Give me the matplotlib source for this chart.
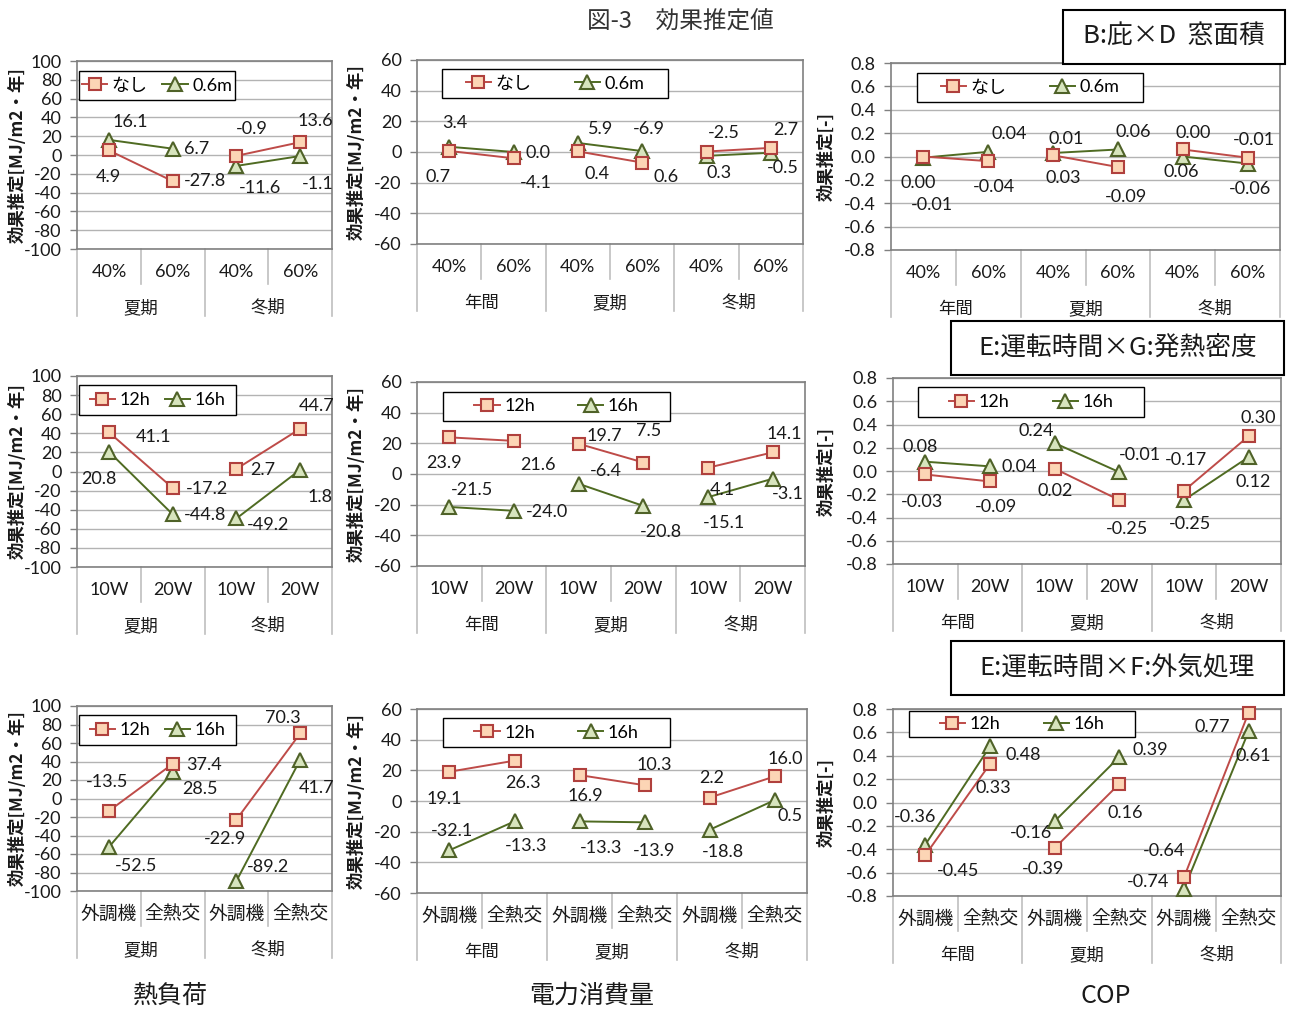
import matplotlib
matplotlib.use("Agg")
import matplotlib.pyplot as plt
from matplotlib.patches import Rectangle
from matplotlib.lines import Line2D

plt.rcParams['font.family'] = ['Lato', 'Noto Sans CJK JP', 'DejaVu Sans']
CJK = ['Noto Sans CJK JP', 'DejaVu Sans']

# ---------------- data ----------------
groups_2 = ['夏期', '冬期']
groups_3 = ['年間', '夏期', '冬期']
cats_window = ['40%', '60%']
cats_heat = ['10W', '20W']
cats_air = ['外調機', '全熱交']

names_B = ['なし', '0.6m']
names_E = ['12h', '16h']

B_heat_nashi = [4.9, -27.8, -0.9, 13.6]
B_heat_06 = [16.1, 6.7, -11.6, -1.1]
B_elec_nashi = [0.7, -4.1, 0.4, -6.9, 0.3, 2.7]
B_elec_06 = [3.4, 0.0, 5.9, 0.6, -2.5, -0.5]
B_cop_nashi = [0.00, -0.04, 0.01, -0.09, 0.06, -0.01]
B_cop_06 = [-0.01, 0.04, 0.03, 0.06, 0.00, -0.06]

EG_heat_12 = [41.1, -17.2, 2.7, 44.7]
EG_heat_16 = [20.8, -44.8, -49.2, 1.8]
EG_elec_12 = [23.9, 21.6, 19.7, 7.5, 4.1, 14.1]
EG_elec_16 = [-21.5, -24.0, -6.4, -20.8, -15.1, -3.1]
EG_cop_12 = [-0.03, -0.09, 0.02, -0.25, -0.17, 0.30]
EG_cop_16 = [0.08, 0.04, 0.24, -0.01, -0.25, 0.12]

EF_heat_12 = [-13.5, 37.4, -22.9, 70.3]
EF_heat_16 = [-52.5, 28.5, -89.2, 41.7]
EF_elec_12 = [19.1, 26.3, 16.9, 10.3, 2.2, 16.0]
EF_elec_16 = [-32.1, -13.3, -13.3, -13.9, -18.8, 0.5]
EF_cop_12 = [-0.45, 0.33, -0.39, 0.16, -0.64, 0.77]
EF_cop_16 = [-0.36, 0.48, -0.16, 0.39, -0.74, 0.61]

heat_ticks = list(range(-100, 101, 20))
elec_ticks = list(range(-60, 61, 20))
cop_ticks = [-0.8, -0.6, -0.4, -0.2, 0.0, 0.2, 0.4, 0.6, 0.8]

# ---------------- layout / style ----------------
W, H = 1290, 1010
fig = plt.figure(figsize=(W / 100, H / 100), dpi=100)
fig.patch.set_facecolor('white')

def fxy(px, py):
    return px / W, 1 - py / H

RED_LINE = '#be4b48'
RED_EDGE = '#b0403d'
RED_FACE = '#fcd5b5'
GRN_LINE = '#4f6b22'
GRN_EDGE = '#4f6228'
GRN_FACE = '#d7e4bd'
TXT = '#1a1a1a'
SEP = '#bfbfbf'
FS = 13

panels = [
    dict(rect=(77, 61, 332, 249), ticks=heat_ticks, fmt='{:.0f}', lfmt='{:.1f}',
         groups=groups_2, cats=cats_window, names=names_B, s1=B_heat_nashi, s2=B_heat_06,
         off1=[(0, -27), (32, 0), (15, 27), (15, 21)],
         off2=[(21, 18), (24, 0), (24, -22), (18, -28)],
         leg=(79, 71, 235, 100), ylab='効果推定[MJ/m2・年]', ylx=18, colsp=0.8),
    dict(rect=(417, 60, 803, 244), ticks=elec_ticks, fmt='{:.0f}', lfmt='{:.1f}',
         groups=groups_3, cats=cats_window, names=names_B, s1=B_elec_nashi, s2=B_elec_06,
         off1=[(-11, -26), (22, -25), (19, -23), (7, 34), (13, -21), (15, 18)],
         off2=[(6, 24), (24, -1), (23, 14), (24, -26), (17, 23), (12, -15)],
         leg=(442, 69, 668, 98), ylab='効果推定[MJ/m2・年]', ylx=357, colsp=2.4),
    dict(rect=(891, 63, 1280, 250), ticks=cop_ticks, fmt='{:.1f}', lfmt='{:.2f}',
         groups=groups_3, cats=cats_window, names=names_B, s1=B_cop_nashi, s2=B_cop_06,
         off1=[(-5, -27), (6, -26), (13, 16), (8, -30), (-1, -23), (6, 18)],
         off2=[(9, -47), (21, 18), (10, -25), (15, 17), (10, 23), (2, -25)],
         leg=(917, 73, 1143, 102), ylab='効果推定[-]', ylx=827, colsp=2.4),
    dict(rect=(77, 376, 332, 567), ticks=heat_ticks, fmt='{:.0f}', lfmt='{:.1f}',
         groups=groups_2, cats=cats_heat, names=names_E, s1=EG_heat_12, s2=EG_heat_16,
         off1=[(45, -5), (34, -1), (26, -1), (16, 23)],
         off2=[(-10, -27), (32, -1), (32, -7), (20, -27)],
         leg=(79, 385, 236, 415), ylab='効果推定[MJ/m2・年]', ylx=18, colsp=0.8),
    dict(rect=(417, 382, 805, 566), ticks=elec_ticks, fmt='{:.0f}', lfmt='{:.1f}',
         groups=groups_3, cats=cats_heat, names=names_E, s1=EG_elec_12, s2=EG_elec_16,
         off1=[(-5, -26), (24, -24), (26, 8), (5, 32), (14, -22), (12, 18)],
         off2=[(23, 17), (33, -1), (27, 13), (18, -26), (16, -26), (15, -15)],
         leg=(443, 392, 670, 421), ylab='効果推定[MJ/m2・年]', ylx=357, colsp=2.4),
    dict(rect=(893, 378, 1281, 564), ticks=cop_ticks, fmt='{:.1f}', lfmt='{:.2f}',
         groups=groups_3, cats=cats_heat, names=names_E, s1=EG_cop_12, s2=EG_cop_16,
         off1=[(-3, -28), (6, -26), (1, -22), (8, -29), (2, 31), (10, 18)],
         off2=[(-5, 15), (29, -1), (-18, 12), (21, 17), (6, -24), (5, -25)],
         leg=(918, 387, 1144, 417), ylab='効果推定[-]', ylx=827, colsp=2.4),
    dict(rect=(77, 706, 332, 891), ticks=heat_ticks, fmt='{:.0f}', lfmt='{:.1f}',
         groups=groups_2, cats=cats_air, names=names_E, s1=EF_heat_12, s2=EF_heat_16,
         off1=[(-2, 29), (31, -1), (-11, -19), (-17, 15)],
         off2=[(27, -19), (27, -17), (32, 14), (16, -28)],
         leg=(79, 715, 236, 745), ylab='効果推定[MJ/m2・年]', ylx=18, colsp=0.8),
    dict(rect=(417, 709, 807, 893), ticks=elec_ticks, fmt='{:.0f}', lfmt='{:.1f}',
         groups=groups_3, cats=cats_air, names=names_E, s1=EF_elec_12, s2=EF_elec_16,
         off1=[(-5, -27), (9, -22), (6, -21), (10, 20), (2, 20), (11, 17)],
         off2=[(3, 19), (12, -25), (22, -27), (10, -29), (13, -22), (16, -16)],
         leg=(443, 718, 670, 747), ylab='効果推定[MJ/m2・年]', ylx=357, colsp=2.4),
    dict(rect=(893, 709, 1281, 896), ticks=cop_ticks, fmt='{:.1f}', lfmt='{:.2f}',
         groups=groups_3, cats=cats_air, names=names_E, s1=EF_cop_12, s2=EF_cop_16,
         off1=[(33, -16), (3, -24), (-12, -21), (6, -29), (-20, 26), (-36, -14)],
         off2=[(-10, 28), (33, -9), (-24, -12), (31, 7), (-36, 7), (5, -25)],
         leg=(909, 711, 1135, 737), ylab='効果推定[-]', ylx=827, colsp=2.4),
]

for p in panels:
    l, t, r, b = p['rect']
    x0, y1 = fxy(l, t)
    x1, y0 = fxy(r, b)
    ax = fig.add_axes([x0, y0, x1 - x0, y1 - y0])
    hpx = b - t
    ncats = len(p['cats'])
    ncat = len(p['groups']) * ncats
    xs = list(range(ncat))

    # one line segment per group (not connected across groups)
    for gi in range(len(p['groups'])):
        sl = slice(gi * ncats, (gi + 1) * ncats)
        ax.plot(xs[sl], p['s1'][sl], color=RED_LINE, lw=1.4, marker='s', ms=9,
                mfc=RED_FACE, mec=RED_EDGE, mew=1.5, zorder=4, clip_on=False)
        ax.plot(xs[sl], p['s2'][sl], color=GRN_LINE, lw=1.4, marker='^', ms=10,
                mfc=GRN_FACE, mec=GRN_EDGE, mew=1.5, zorder=3, clip_on=False)

    for vals, offs in ((p['s1'], p['off1']), (p['s2'], p['off2'])):
        for xi, v, (dx, dy) in zip(xs, vals, offs):
            ax.annotate(p['lfmt'].format(v), (xi, v), xytext=(dx, dy),
                        textcoords='offset pixels', ha='center', va='center',
                        fontsize=FS, color=TXT, zorder=6, annotation_clip=False)

    ticks = p['ticks']
    ax.set_ylim(ticks[0], ticks[-1])
    ax.set_xlim(-0.5, ncat - 0.5)
    ax.set_yticks(ticks)
    ax.set_yticklabels([p['fmt'].format(v) for v in ticks], fontsize=FS, color=TXT)
    ax.tick_params(axis='y', length=5, width=1, color='#808080', pad=6)
    ax.set_xticks([])
    ax.yaxis.grid(True, color='#b3b3b3', lw=1)
    ax.set_axisbelow(True)
    for sp in ax.spines.values():
        sp.set_color('#808080')
        sp.set_linewidth(1.2)

    # grouped category axis
    tr = ax.get_xaxis_transform()
    cjk_cats = p['cats'] is cats_air
    for gi, g in enumerate(p['groups']):
        for ci, c in enumerate(p['cats']):
            xi = gi * ncats + ci
            ax.text(xi, -23 / hpx, c, transform=tr, ha='center', va='center',
                    fontsize=13.5 if cjk_cats else FS, color=TXT,
                    family=CJK if cjk_cats else None)
            if ci > 0:
                ax.plot([xi - 0.5, xi - 0.5], [0, -35 / hpx], transform=tr,
                        color=SEP, lw=1.2, clip_on=False)
        ax.text(gi * ncats + (ncats - 1) / 2, -59 / hpx, g, transform=tr,
                ha='center', va='center', fontsize=12.5, color=TXT, family=CJK)
    for gi in range(len(p['groups']) + 1):
        xb = gi * ncats - 0.5
        ax.plot([xb, xb], [0, -67 / hpx], transform=tr, color=SEP, lw=1.2,
                clip_on=False)

    # y label
    fig.text(*fxy(p['ylx'], (t + b) / 2), p['ylab'], rotation=90, ha='center',
             va='center', fontsize=12.5, fontweight='bold', color=TXT, family=CJK)

    # legend box + legend
    lx0, ly0, lx1, ly1 = p['leg']
    bx0, by1 = fxy(lx0, ly0)
    bx1, by0 = fxy(lx1, ly1)
    fig.add_artist(Rectangle((bx0, by0), bx1 - bx0, by1 - by0, transform=fig.transFigure,
                             facecolor='white', edgecolor='black', lw=1.0, zorder=2))
    handles = [
        Line2D([], [], color=RED_LINE, lw=1.4, marker='s', ms=9, mfc=RED_FACE,
               mec=RED_EDGE, mew=1.5),
        Line2D([], [], color=GRN_LINE, lw=1.4, marker='^', ms=10, mfc=GRN_FACE,
               mec=GRN_EDGE, mew=1.5),
    ]
    leg = fig.legend(handles, p['names'], loc='center',
                     bbox_to_anchor=((bx0 + bx1) / 2, (by0 + by1) / 2),
                     bbox_transform=fig.transFigure, ncol=2, frameon=False,
                     fontsize=FS, handlelength=1.4, handletextpad=0.25,
                     columnspacing=p['colsp'], borderpad=0.1)
    leg.set_zorder(5)

# title boxes
title_boxes = [
    ((1063, 10, 1285, 64), 'B:庇×D  窓面積'),
    ((951, 321, 1284, 375), 'E:運転時間×G:発熱密度'),
    ((951, 641, 1284, 695), 'E:運転時間×F:外気処理'),
]
for (l, t, r, b), s in title_boxes:
    x0, y1 = fxy(l, t)
    x1, y0 = fxy(r, b)
    fig.add_artist(Rectangle((x0, y0), x1 - x0, y1 - y0, transform=fig.transFigure,
                             facecolor='white', edgecolor='black', lw=1.5, zorder=3))
    fig.text((x0 + x1) / 2, (y0 + y1) / 2, s, ha='center', va='center',
             fontsize=18.5, color=TXT, zorder=4, family=CJK)

fig.text(*fxy(680, 22), '図-3　効果推定値', ha='center', va='center', fontsize=17,
         color='#333333', family=CJK)
fig.text(*fxy(170, 996), '熱負荷', ha='center', va='center', fontsize=18, color=TXT,
         family=CJK)
fig.text(*fxy(592, 996), '電力消費量', ha='center', va='center', fontsize=18, color=TXT,
         family=CJK)
fig.text(*fxy(1106, 996), 'COP', ha='center', va='center', fontsize=18, color=TXT,
         family=CJK)

fig.savefig('out.png', dpi=100, facecolor='white')
